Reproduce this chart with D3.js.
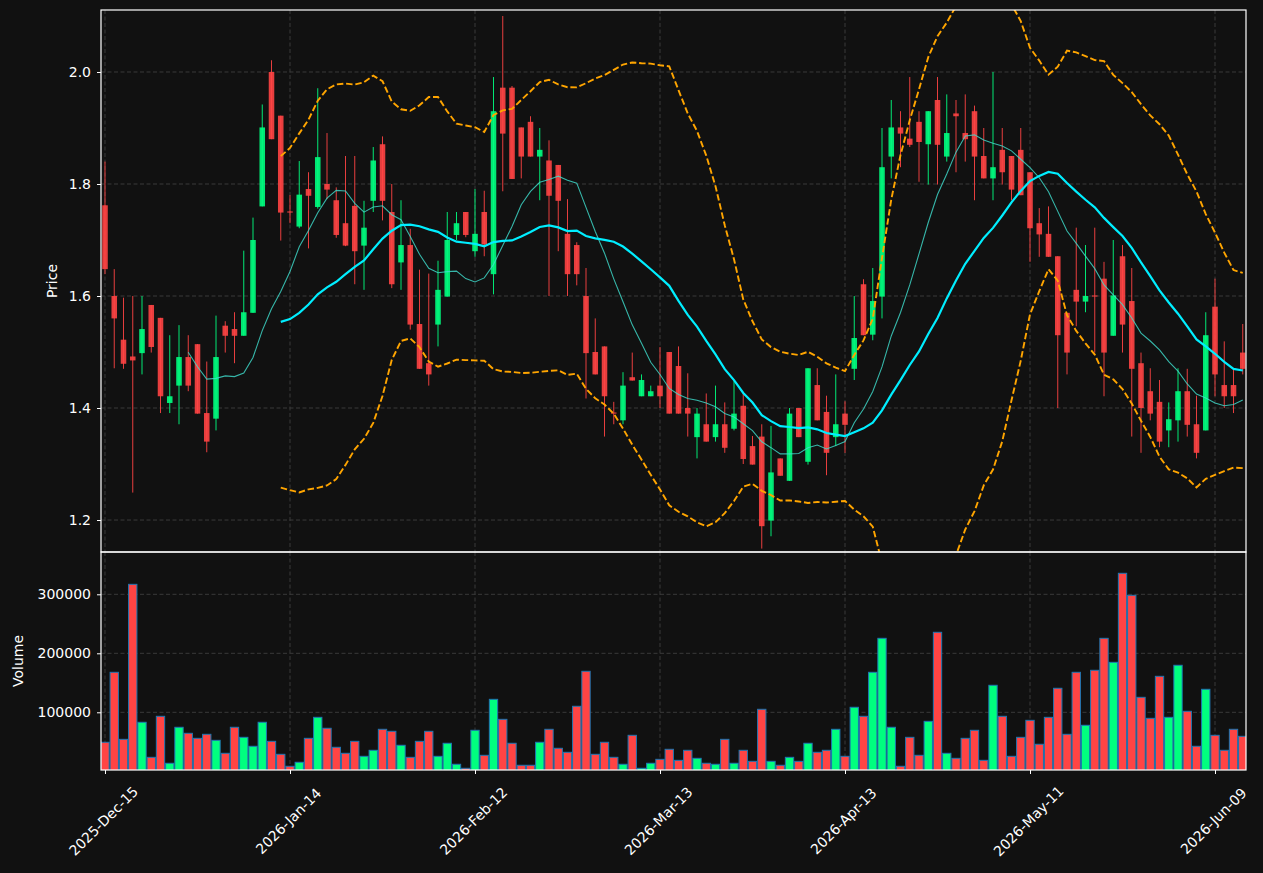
<!DOCTYPE html>
<html>
<head>
<meta charset="utf-8">
<script src="https://cdn.jsdelivr.net/npm/d3@7/dist/d3.min.js"></script>
<style>
  html, body { margin: 0; padding: 0; background: #111111; }
  svg { display: block; }
  text { font-family: "DejaVu Sans", sans-serif; }
</style>
</head>
<body>
<svg id="chart" width="1263" height="873"></svg>
<script>
// ---------------- DATA ----------------
const dates = [
  "2025-12-15","2025-12-16","2025-12-17","2025-12-18","2025-12-19",
  "2025-12-22","2025-12-23","2025-12-24","2025-12-26",
  "2025-12-29","2025-12-30","2025-12-31","2026-01-02",
  "2026-01-05","2026-01-06","2026-01-07","2026-01-08","2026-01-09",
  "2026-01-12","2026-01-13","2026-01-14","2026-01-15","2026-01-16",
  "2026-01-20","2026-01-21","2026-01-22","2026-01-23",
  "2026-01-26","2026-01-27","2026-01-28","2026-01-29","2026-01-30",
  "2026-02-02","2026-02-03","2026-02-04","2026-02-05","2026-02-06",
  "2026-02-09","2026-02-10","2026-02-11","2026-02-12","2026-02-13",
  "2026-02-17","2026-02-18","2026-02-19","2026-02-20",
  "2026-02-23","2026-02-24","2026-02-25","2026-02-26","2026-02-27",
  "2026-03-02","2026-03-03","2026-03-04","2026-03-05","2026-03-06",
  "2026-03-09","2026-03-10","2026-03-11","2026-03-12","2026-03-13",
  "2026-03-16","2026-03-17","2026-03-18","2026-03-19","2026-03-20",
  "2026-03-23","2026-03-24","2026-03-25","2026-03-26","2026-03-27",
  "2026-03-30","2026-03-31","2026-04-01","2026-04-02",
  "2026-04-06","2026-04-07","2026-04-08","2026-04-09","2026-04-10",
  "2026-04-13","2026-04-14","2026-04-15","2026-04-16","2026-04-17",
  "2026-04-20","2026-04-21","2026-04-22","2026-04-23","2026-04-24",
  "2026-04-27","2026-04-28","2026-04-29","2026-04-30","2026-05-01",
  "2026-05-04","2026-05-05","2026-05-06","2026-05-07","2026-05-08",
  "2026-05-11","2026-05-12","2026-05-13","2026-05-14","2026-05-15",
  "2026-05-18","2026-05-19","2026-05-20","2026-05-21","2026-05-22",
  "2026-05-26","2026-05-27","2026-05-28","2026-05-29",
  "2026-06-01","2026-06-02","2026-06-03","2026-06-04","2026-06-05",
  "2026-06-08","2026-06-09","2026-06-10","2026-06-11","2026-06-12"
];

const open = [
  1.762,1.600,1.522,1.492,1.498,1.584,1.561,1.409,1.440,1.491,
  1.514,1.391,1.381,1.547,1.541,1.529,1.570,1.760,2.000,1.922,
  1.751,1.724,1.791,1.759,1.800,1.771,1.730,1.761,1.690,1.770,
  1.871,1.750,1.660,1.691,1.550,1.480,1.549,1.599,1.709,1.750,
  1.680,1.750,1.639,1.972,1.972,1.901,1.911,1.849,1.842,1.834,
  1.711,1.691,1.600,1.500,1.510,1.392,1.378,1.455,1.421,1.421,
  1.440,1.500,1.475,1.400,1.348,1.371,1.348,1.371,1.363,1.404,
  1.332,1.349,1.199,1.310,1.270,1.400,1.304,1.441,1.393,1.348,
  1.390,1.470,1.621,1.531,1.599,1.849,1.901,1.881,1.911,1.871,
  1.950,1.849,1.926,1.891,1.930,1.850,1.810,1.861,1.850,1.861,
  1.821,1.730,1.711,1.671,1.570,1.611,1.590,1.601,1.631,1.529,
  1.671,1.591,1.480,1.430,1.411,1.360,1.378,1.430,1.371,1.360,
  1.581,1.441,1.441,1.499
];
const high = [
  1.840,1.648,1.597,1.600,1.600,1.584,1.561,1.530,1.548,1.530,
  1.514,1.483,1.565,1.555,1.571,1.681,1.740,1.942,2.021,1.922,
  1.780,1.841,1.821,1.971,1.891,1.794,1.850,1.850,1.770,1.866,
  1.885,1.800,1.771,1.720,1.647,1.640,1.663,1.750,1.750,1.750,
  1.791,1.788,1.991,2.100,1.975,1.901,1.921,1.900,1.878,1.834,
  1.773,1.696,1.650,1.560,1.510,1.411,1.464,1.499,1.460,1.440,
  1.509,1.500,1.510,1.462,1.400,1.426,1.440,1.410,1.448,1.426,
  1.350,1.371,1.368,1.310,1.400,1.400,1.471,1.471,1.422,1.460,
  1.412,1.600,1.630,1.650,1.900,1.950,1.930,1.991,1.930,1.930,
  1.991,1.960,1.950,1.960,1.940,1.900,2.000,1.900,1.850,1.900,
  1.821,1.757,1.760,1.671,1.570,1.722,1.691,1.722,1.661,1.700,
  1.691,1.650,1.499,1.471,1.450,1.410,1.471,1.470,1.422,1.571,
  1.631,1.519,1.470,1.550
];
const low = [
  1.639,1.471,1.470,1.249,1.460,1.499,1.391,1.391,1.371,1.430,
  1.390,1.321,1.360,1.499,1.480,1.529,1.570,1.760,1.880,1.699,
  1.730,1.721,1.685,1.756,1.773,1.704,1.689,1.621,1.611,1.750,
  1.735,1.614,1.611,1.540,1.470,1.440,1.510,1.599,1.700,1.705,
  1.670,1.671,1.603,1.787,1.809,1.810,1.849,1.771,1.600,1.680,
  1.600,1.619,1.417,1.460,1.349,1.371,1.371,1.449,1.421,1.421,
  1.400,1.390,1.390,1.349,1.310,1.340,1.340,1.320,1.360,1.300,
  1.299,1.149,1.171,1.279,1.270,1.348,1.299,1.378,1.280,1.332,
  1.320,1.450,1.530,1.521,1.560,1.810,1.830,1.866,1.804,1.799,
  1.799,1.840,1.821,1.840,1.771,1.810,1.771,1.799,1.771,1.780,
  1.661,1.670,1.670,1.400,1.460,1.546,1.571,1.499,1.421,1.529,
  1.499,1.349,1.320,1.378,1.330,1.330,1.340,1.349,1.310,1.360,
  1.421,1.400,1.391,1.460
];
const close = [
  1.648,1.560,1.479,1.485,1.541,1.509,1.421,1.421,1.491,1.440,
  1.390,1.340,1.491,1.529,1.529,1.571,1.700,1.901,1.880,1.749,
  1.749,1.781,1.779,1.848,1.790,1.709,1.690,1.680,1.722,1.842,
  1.770,1.621,1.691,1.549,1.470,1.460,1.611,1.700,1.730,1.709,
  1.711,1.692,1.930,1.890,1.809,1.849,1.849,1.861,1.779,1.770,
  1.639,1.639,1.498,1.460,1.421,1.390,1.440,1.449,1.450,1.430,
  1.421,1.390,1.390,1.390,1.390,1.340,1.371,1.329,1.390,1.309,
  1.299,1.189,1.285,1.279,1.390,1.348,1.471,1.378,1.320,1.371,
  1.370,1.525,1.530,1.591,1.830,1.901,1.890,1.870,1.875,1.930,
  1.870,1.891,1.921,1.880,1.849,1.810,1.830,1.821,1.790,1.780,
  1.721,1.710,1.670,1.530,1.499,1.590,1.600,1.599,1.499,1.601,
  1.549,1.470,1.400,1.390,1.340,1.380,1.430,1.370,1.320,1.530,
  1.460,1.421,1.421,1.470
];
const volume = [
  49200,167800,54200,316900,83100,23700,93200,13600,74600,64400,
  55900,62700,52500,30500,74600,57600,42400,83100,50800,28800,
  8500,15300,55900,91500,72900,40700,30500,50800,25400,35600,
  71200,67800,44100,23700,50800,67800,25400,47500,11900,5100,
  69500,27100,122000,88100,47500,10200,10200,49200,71200,39000,
  32200,110200,169500,28800,49200,23700,11900,61000,5100,13600,
  20300,37300,18600,35600,22000,13600,11900,54200,13600,35600,
  16900,105100,16900,10200,23700,16900,47500,32200,35600,71200,
  25400,108500,93200,167800,225400,74600,8500,57600,27100,84700,
  235600,30500,22000,55900,69500,18600,145800,93200,25400,57600,
  86400,45800,91500,140700,62700,167800,78000,171200,225400,184700,
  335600,298300,125400,89800,161000,91500,179700,101700,42400,139000,
  61000,35600,71200,59300
];

const tickLabels = ["2025-Dec-15","2026-Jan-14","2026-Feb-12","2026-Mar-13","2026-Apr-13","2026-May-11","2026-Jun-09"];
const tickDates  = ["2025-12-15","2026-01-14","2026-02-12","2026-03-13","2026-04-13","2026-05-11","2026-06-09"];
const priceTicks = [1.2, 1.4, 1.6, 1.8, 2.0];
const volumeTicks = [100000, 200000, 300000];

// indicator settings (moving averages of close and Bollinger band)
const maShort = 10, maLong = 20, bandK = 2;

// ---------------- LAYOUT ----------------
const svg = d3.select("#chart");
const L = 101, R = 1246, T = 10, MB = 552, VB = 770;
const bg = "#111111", fg = "#ffffff";
const upCol = "#00ff7f", downCol = "#ff4444";

svg.append("rect").attr("width", 1263).attr("height", 873).attr("fill", bg);

const n = close.length;
const idx = d3.range(n);
const x = d3.scaleLinear().domain([-0.4324, 123.35]).range([L, R]);
const step = x(1) - x(0);
const yP = d3.scaleLinear().domain([1.1429, 2.1107]).range([MB, T]);
const yV = d3.scaleLinear().domain([2200, 371700]).range([VB, MB]);

const tickIdx = tickDates.map(d => dates.indexOf(d));

// clip paths
const defs = svg.append("defs");
defs.append("clipPath").attr("id", "clipMain").append("rect")
  .attr("x", L).attr("y", T).attr("width", R - L).attr("height", MB - T);
defs.append("clipPath").attr("id", "clipVol").append("rect")
  .attr("x", L).attr("y", MB).attr("width", R - L).attr("height", VB - MB);

// grid
const gridCol = "#3a3a3a";
const grid = svg.append("g");
priceTicks.forEach(v => grid.append("line")
  .attr("x1", L).attr("x2", R).attr("y1", yP(v)).attr("y2", yP(v))
  .attr("stroke", gridCol).attr("stroke-width", 1).attr("stroke-dasharray", "4,2.5"));
volumeTicks.forEach(v => grid.append("line")
  .attr("x1", L).attr("x2", R).attr("y1", yV(v)).attr("y2", yV(v))
  .attr("stroke", gridCol).attr("stroke-width", 1).attr("stroke-dasharray", "4,2.5"));
tickIdx.forEach(i => {
  grid.append("line").attr("x1", x(i)).attr("x2", x(i)).attr("y1", T).attr("y2", MB)
    .attr("stroke", gridCol).attr("stroke-width", 1).attr("stroke-dasharray", "4,2.5");
  grid.append("line").attr("x1", x(i)).attr("x2", x(i)).attr("y1", MB).attr("y2", VB)
    .attr("stroke", gridCol).attr("stroke-width", 1).attr("stroke-dasharray", "4,2.5");
});

// candles
const candles = svg.append("g").attr("clip-path", "url(#clipMain)");
const isUp = i => close[i] >= open[i];
candles.selectAll("line.wick").data(idx).enter().append("line")
  .attr("x1", i => x(i)).attr("x2", i => x(i))
  .attr("y1", i => yP(high[i])).attr("y2", i => yP(low[i]))
  .attr("stroke", i => isUp(i) ? upCol : downCol)
  .attr("stroke-opacity", 0.9).attr("stroke-width", 1);
const bw = step * 0.6;
candles.selectAll("rect.body").data(idx).enter().append("rect")
  .attr("x", i => x(i) - bw / 2)
  .attr("width", bw)
  .attr("y", i => yP(Math.max(open[i], close[i])))
  .attr("height", i => Math.max(1, Math.abs(yP(open[i]) - yP(close[i]))))
  .attr("fill", i => isUp(i) ? upCol : downCol)
  .attr("fill-opacity", 0.9);

// indicators: rolling mean and rolling (population) standard deviation of close
function sma(arr, p) {
  return arr.map((_, i) => i < p - 1 ? null : d3.mean(arr.slice(i - p + 1, i + 1)));
}
function rollStd(arr, p) {
  return arr.map((_, i) => {
    if (i < p - 1) return null;
    const w = arr.slice(i - p + 1, i + 1), m = d3.mean(w);
    return Math.sqrt(d3.mean(w, v => (v - m) * (v - m)));
  });
}
const maS = sma(close, maShort);
const maL = sma(close, maLong);
const sdL = rollStd(close, maLong);
const upper = maL.map((m, i) => m == null ? null : m + bandK * sdL[i]);
const lower = maL.map((m, i) => m == null ? null : m - bandK * sdL[i]);

const lineGen = arr => d3.line().defined(i => arr[i] != null)
  .x(i => x(i)).y(i => yP(arr[i]))(idx);

const lines = svg.append("g").attr("clip-path", "url(#clipMain)");
lines.append("path").attr("d", lineGen(maS)).attr("fill", "none")
  .attr("stroke", "#40e0d0").attr("stroke-opacity", 0.8).attr("stroke-width", 1.1);
lines.append("path").attr("d", lineGen(maL)).attr("fill", "none")
  .attr("stroke", "#00eeff").attr("stroke-width", 2.2);
[upper, lower].forEach(b => lines.append("path").attr("d", lineGen(b)).attr("fill", "none")
  .attr("stroke", "#ffa500").attr("stroke-width", 1.9).attr("stroke-dasharray", "6.5,2.8"));

// volume bars
const vol = svg.append("g").attr("clip-path", "url(#clipVol)");
const vw = step * 0.9;
vol.selectAll("rect").data(idx).enter().append("rect")
  .attr("x", i => x(i) - vw / 2).attr("width", vw)
  .attr("y", i => yV(volume[i])).attr("height", i => VB - yV(volume[i]) + 2)
  .attr("fill", i => isUp(i) ? upCol : downCol)
  .attr("stroke", "#1f77b4").attr("stroke-width", 1);

// axes
function styleAxis(g) {
  g.select(".domain").remove();
  g.selectAll(".tick line").attr("stroke", fg).attr("stroke-width", 1);
  g.selectAll(".tick text").attr("fill", fg).style("font-size", "14px")
    .style("font-family", "DejaVu Sans, sans-serif");
}
svg.append("g").attr("transform", `translate(${L},0)`)
  .call(d3.axisLeft(yP).tickValues(priceTicks).tickFormat(d3.format(".1f")).tickSize(4).tickPadding(6))
  .call(styleAxis);
svg.append("g").attr("transform", `translate(${L},0)`)
  .call(d3.axisLeft(yV).tickValues(volumeTicks).tickFormat(d3.format("d")).tickSize(4).tickPadding(6))
  .call(styleAxis);
const xAxis = svg.append("g").attr("transform", `translate(0,${VB})`)
  .call(d3.axisBottom(x).tickValues(tickIdx).tickFormat((d, k) => tickLabels[k]).tickSize(4))
  .call(styleAxis);
xAxis.selectAll(".tick text")
  .attr("y", 0).attr("dy", null)
  .attr("text-anchor", "middle")
  .attr("dominant-baseline", "central")
  .attr("transform", "translate(-2,51) rotate(-45)");

// spines
[[T, MB], [MB, VB]].forEach(([a, b]) => svg.append("rect")
  .attr("x", L).attr("y", a).attr("width", R - L).attr("height", b - a)
  .attr("fill", "none").attr("stroke", fg).attr("stroke-width", 1.2));

// axis titles
svg.append("text").attr("transform", `translate(57,${(T + MB) / 2}) rotate(-90)`)
  .attr("text-anchor", "middle").attr("fill", fg).style("font-size", "14px").text("Price");
svg.append("text").attr("transform", `translate(23,${(MB + VB) / 2}) rotate(-90)`)
  .attr("text-anchor", "middle").attr("fill", fg).style("font-size", "14px").text("Volume");
</script>
</body>
</html>
